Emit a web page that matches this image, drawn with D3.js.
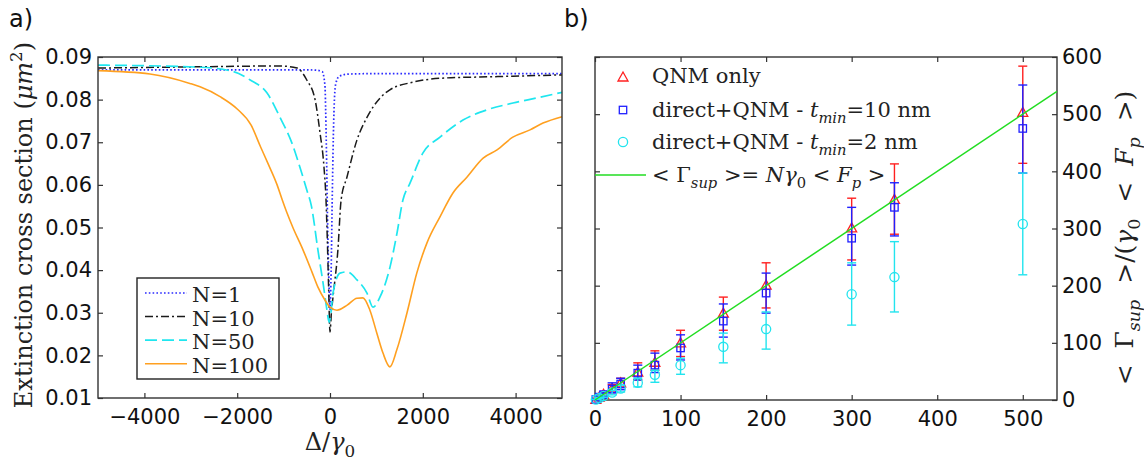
<!DOCTYPE html>
<meta charset="utf-8">
<style>
body { margin: 0; background: #fff; }
svg { display: block; background: #fff; }
.tick line { stroke: #333; stroke-width: 1.2; }
.tick text { fill: #111; }
</style>
<body>
<script src="https://cdn.jsdelivr.net/npm/d3@7/dist/d3.min.js"></script>
<script>

var width = 1144,
    height = 466;

// ---- panel a) : extinction cross section vs detuning ----
var deltaN1  = [-5000, -2000, -600, -300, -170, -110, -80, -50, -20, 0, 25, 50, 80, 120, 200, 400, 1000, 3000, 5000];
var extN1    = [0.0870, 0.0870, 0.0870, 0.0869, 0.0866, 0.0835, 0.070, 0.050, 0.036, 0.0306, 0.040, 0.058, 0.075, 0.0835, 0.0855, 0.0860, 0.0861, 0.0861, 0.0861];

var deltaN10 = [-5000, -2800, -1080, -710, -500, -320, -215, -130, -86, -60, -30, 0, 30, 65, 170, 240, 365, 580, 800, 1080, 1290, 1790, 2520, 3230, 3940, 5000];
var extN10   = [0.0874, 0.0877, 0.0879, 0.0874, 0.0846, 0.0799, 0.0722, 0.0642, 0.0565, 0.048, 0.036, 0.0255, 0.030, 0.0337, 0.0447, 0.0565, 0.0618, 0.0705, 0.0759, 0.0804, 0.0823, 0.0841, 0.0851, 0.0853, 0.0855, 0.0858];

var deltaN50 = [-5000, -2800, -2090, -1720, -1360, -1080, -820, -650, -500, -400, -260, -150, -65, -20, 20, 65, 216, 366, 582, 797, 927, 1078, 1293, 1444, 1573, 1724, 2004, 2371, 2866, 3383, 3944, 4461, 5000];
var extN50   = [0.0881, 0.0876, 0.0866, 0.0846, 0.0816, 0.0759, 0.0698, 0.0642, 0.0588, 0.0550, 0.0447, 0.037, 0.0306, 0.0278, 0.030, 0.0346, 0.0393, 0.0396, 0.0377, 0.0346, 0.0313, 0.0337, 0.0407, 0.0487, 0.0565, 0.0604, 0.0675, 0.0712, 0.0752, 0.0776, 0.0792, 0.0804, 0.0817];

var deltaN100 = [-5000, -3880, -3020, -2800, -2370, -2000, -1700, -1500, -1340, -1140, -1030, -930, -800, -580, -390, -260, -110, 0, 150, 370, 580, 710, 860, 1010, 1140, 1290, 1440, 1660, 1870, 2090, 2370, 2650, 2950, 3300, 3600, 3940, 4310, 4590, 5000];
var extN100   = [0.0868, 0.0860, 0.0838, 0.0830, 0.0807, 0.0778, 0.0740, 0.0690, 0.0651, 0.0600, 0.0565, 0.0535, 0.0500, 0.0447, 0.0396, 0.036, 0.033, 0.0313, 0.0306, 0.0318, 0.0334, 0.0335, 0.0306, 0.0252, 0.0206, 0.0173, 0.0213, 0.030, 0.0393, 0.0464, 0.0525, 0.0581, 0.0618, 0.0663, 0.0682, 0.0712, 0.0729, 0.0745, 0.0760];

var seriesNames  = ["N=1", "N=10", "N=50", "N=100"];
var xTicksA = [-4000, -2000, 0, 2000, 4000];
var yTicksA = [0.01, 0.02, 0.03, 0.04, 0.05, 0.06, 0.07, 0.08, 0.09];

// ---- panel b) : collective decay rate vs number of dipoles ----
var dipoles    = [1, 5, 10, 20, 30, 50, 70, 100, 150, 200, 300, 350, 500];
var qnmOnly    = [1, 5, 10, 20, 30, 49, 66, 100, 152, 201, 301, 351, 503];
var qnmLo      = [0.7, 3.5, 7, 14, 22, 35, 52, 76, 122, 161, 245, 290, 414];
var qnmHi      = [1.3, 6.5, 13, 27, 38, 65, 86, 122, 180, 240, 353, 413, 584];
var direct10   = [1, 5, 9.5, 19, 28, 47, 61, 91, 138, 187, 283, 337, 475];
var direct10Lo = [0.6, 3, 6, 13, 18, 35, 48, 70, 110, 152, 236, 287, 397];
var direct10Hi = [1.4, 7, 14, 30, 38, 61, 82, 114, 168, 222, 337, 380, 551];
var direct2    = [1, 3.5, 7, 13, 20, 30, 44, 61, 93, 124, 185, 215, 308];
var direct2Lo  = [0.8, 2.5, 5, 9, 14, 23, 31, 45, 65, 89, 131, 154, 219];
var direct2Hi  = [1.2, 4.5, 9, 17, 26, 38, 52, 73, 117, 154, 240, 277, 397];
var fitN       = [0, 540];
var fitGamma   = [0, 540];
var xTicksB = [0, 100, 200, 300, 400, 500];
var yTicksB = [0, 100, 200, 300, 400, 500, 600];

var tickFont = "'DejaVu Sans', sans-serif",
    mathFont = "'DejaVu Serif', serif";

var svg = d3.select("body").append("svg")
    .attr("width", width)
    .attr("height", height);

// rich text helper: parts = [[text, style]] ; style: i = italic, sub, sup
function rich(sel, parts, size) {
  var shift = 0;
  parts.forEach(function(p) {
    var st = p[1] || "";
    var ts = sel.append("tspan").text(p[0]);
    var target = 0;
    if (st.indexOf("sub") >= 0) target = 0.28 * size;
    if (st.indexOf("sup") >= 0) target = -0.42 * size;
    if (target !== shift) { ts.attr("dy", target - shift); shift = target; }
    if (st.indexOf("i") === 0 || st.indexOf("-i") >= 0) ts.attr("font-style", "italic");
    if (target !== 0) ts.attr("font-size", size * 0.7);
  });
  return sel;
}

function drawAxes(g, x, y, xt, yt, xfmt, yfmt, yRightLabels) {
  var x0 = x.range()[0], x1 = x.range()[1], y0 = y.range()[0], y1 = y.range()[1];
  var style = function(a) {
    a.select(".domain").remove();
    a.attr("font-size", 21).attr("font-family", tickFont);
  };
  g.append("g").attr("transform", "translate(0," + y0 + ")")
    .call(d3.axisBottom(x).tickValues(xt).tickSizeInner(-5).tickSizeOuter(0).tickPadding(11).tickFormat(xfmt))
    .call(style);
  g.append("g").attr("transform", "translate(0," + y1 + ")")
    .call(d3.axisTop(x).tickValues(xt).tickSizeInner(-5).tickSizeOuter(0).tickFormat(""))
    .call(style);
  g.append("g").attr("transform", "translate(" + x0 + ",0)")
    .call(d3.axisLeft(y).tickValues(yt).tickSizeInner(-5).tickSizeOuter(0).tickPadding(6).tickFormat(yRightLabels ? "" : yfmt))
    .call(style);
  g.append("g").attr("transform", "translate(" + x1 + ",0)")
    .call(d3.axisRight(y).tickValues(yt).tickSizeInner(-5).tickSizeOuter(0).tickPadding(5).tickFormat(yRightLabels ? yfmt : ""))
    .call(style);
  g.append("rect")
    .attr("x", x0).attr("y", y1)
    .attr("width", x1 - x0).attr("height", y0 - y1)
    .attr("fill", "none").attr("stroke", "#333").attr("stroke-width", 1.4);
}

// ================= panel a =================
var xA = d3.scaleLinear().domain([-5000, 5000]).range([98, 562]);
var yA = d3.scaleLinear().domain([0.01, 0.09]).range([398, 57]);

var gA = svg.append("g");

var styles = [
  {color: "#2a2aff", dash: "1.6,2.2", w: 1.7},
  {color: "#1a1a1a", dash: "8,3,2,3", w: 1.5},
  {color: "#1fe6ef", dash: "12,5", w: 1.7},
  {color: "#ffa020", dash: null, w: 1.6}
];
var curves = [
  d3.zip(deltaN1, extN1),
  d3.zip(deltaN10, extN10),
  d3.zip(deltaN50, extN50),
  d3.zip(deltaN100, extN100)
];

var lineA = d3.line()
    .curve(d3.curveMonotoneX)
    .x(function(d) { return xA(d[0]); })
    .y(function(d) { return yA(d[1]); });

gA.selectAll("path.curve")
    .data(curves)
  .enter().append("path")
    .attr("class", "curve")
    .attr("d", lineA)
    .attr("fill", "none")
    .attr("stroke", function(d, i) { return styles[i].color; })
    .attr("stroke-width", function(d, i) { return styles[i].w; })
    .attr("stroke-dasharray", function(d, i) { return styles[i].dash; });

drawAxes(gA, xA, yA, xTicksA, yTicksA, d3.format("d"), d3.format(".2f"), false);

// legend a
var legA = gA.append("g");
legA.append("rect")
    .attr("x", 137).attr("y", 278).attr("width", 142).attr("height", 101)
    .attr("fill", "#fff").attr("stroke", "#222").attr("stroke-width", 1.4);
seriesNames.forEach(function(name, i) {
  var yy = 293 + i * 23.6;
  legA.append("line")
      .attr("x1", 145).attr("x2", 187).attr("y1", yy).attr("y2", yy)
      .attr("stroke", styles[i].color)
      .attr("stroke-width", styles[i].w)
      .attr("stroke-dasharray", styles[i].dash);
  legA.append("text")
      .attr("x", 192).attr("y", yy + 9)
      .attr("font-family", mathFont).attr("font-size", 21).attr("fill", "#222")
      .text(name);
});

// labels a
svg.append("text").attr("x", 9).attr("y", 27)
    .attr("font-family", tickFont).attr("font-size", 24).attr("fill", "#111")
    .text("a)");

rich(svg.append("text")
    .attr("transform", "translate(32,225) rotate(-90)")
    .attr("text-anchor", "middle")
    .attr("font-family", mathFont).attr("font-size", 24).attr("fill", "#222"),
  [["Extinction cross section ("], ["μm", "i"], ["2", "sup"], [")"]], 24);

rich(svg.append("text")
    .attr("x", 330).attr("y", 450)
    .attr("text-anchor", "middle")
    .attr("font-family", mathFont).attr("font-size", 24).attr("fill", "#222"),
  [["Δ/"], ["γ", "i"], ["0", "sub"]], 24);

// ================= panel b =================
var xB = d3.scaleLinear().domain([0, 540]).range([595, 1057]);
var yB = d3.scaleLinear().domain([0, 600]).range([400, 57]);

var gB = svg.append("g");

drawAxes(gB, xB, yB, xTicksB, yTicksB, d3.format("d"), d3.format("d"), true);

var groups = [
  {val: qnmOnly, lo: qnmLo, hi: qnmHi, color: "#ff2020", marker: "tri"},
  {val: direct10, lo: direct10Lo, hi: direct10Hi, color: "#2020ff", marker: "sq"},
  {val: direct2, lo: direct2Lo, hi: direct2Hi, color: "#22e4ee", marker: "circ"}
];

function marker(g, type, cx, cy, color) {
  if (type === "tri") {
    g.append("path")
      .attr("d", "M" + (cx - 5) + "," + (cy + 4) + "L" + (cx + 5) + "," + (cy + 4) + "L" + cx + "," + (cy - 5) + "Z")
      .attr("fill", "none").attr("stroke", color).attr("stroke-width", 1.3);
  } else if (type === "sq") {
    g.append("rect").attr("x", cx - 3.7).attr("y", cy - 3.7).attr("width", 7.4).attr("height", 7.4)
      .attr("fill", "none").attr("stroke", color).attr("stroke-width", 1.3);
  } else {
    g.append("circle").attr("cx", cx).attr("cy", cy).attr("r", 4.6)
      .attr("fill", "none").attr("stroke", color).attr("stroke-width", 1.3);
  }
}

groups.forEach(function(s) {
  var g = gB.append("g");
  dipoles.forEach(function(n, i) {
    var cx = xB(n);
    g.append("line").attr("x1", cx).attr("x2", cx)
      .attr("y1", yB(s.lo[i])).attr("y2", yB(s.hi[i]))
      .attr("stroke", s.color).attr("stroke-width", 1.4);
    [s.lo[i], s.hi[i]].forEach(function(v) {
      g.append("line").attr("x1", cx - 4.5).attr("x2", cx + 4.5)
        .attr("y1", yB(v)).attr("y2", yB(v))
        .attr("stroke", s.color).attr("stroke-width", 1.4);
    });
    marker(g, s.marker, cx, yB(s.val[i]), s.color);
  });
});

gB.append("path")
    .datum(d3.zip(fitN, fitGamma))
    .attr("d", d3.line().x(function(d) { return xB(d[0]); }).y(function(d) { return yB(d[1]); }))
    .attr("fill", "none").attr("stroke", "#22dd22").attr("stroke-width", 1.5);

// legend b
var legB = gB.append("g");
var legRows = [
  [["QNM only"]],
  [["direct+QNM - "], ["t", "i"], ["min", "sub-i"], ["=10 nm"]],
  [["direct+QNM - "], ["t", "i"], ["min", "sub-i"], ["=2 nm"]],
  [["< Γ"], ["sup", "sub-i"], [" >= "], ["N", "i"], ["γ", "i"], ["0", "sub"], [" < "], ["F", "i"], ["p", "sub-i"], [" >"]]
];
var legY = [76, 110, 142, 175];
marker(legB, "tri", 623, legY[0] + 1, groups[0].color);
marker(legB, "sq", 623, legY[1], groups[1].color);
marker(legB, "circ", 623, legY[2], groups[2].color);
legB.append("line").attr("x1", 595).attr("x2", 646).attr("y1", legY[3]).attr("y2", legY[3])
    .attr("stroke", "#22dd22").attr("stroke-width", 1.5);
legRows.forEach(function(parts, i) {
  rich(legB.append("text")
      .attr("x", 652).attr("y", legY[i] + 7)
      .attr("font-family", mathFont).attr("font-size", 21).attr("fill", "#222"),
    parts, 21);
});

// labels b
svg.append("text").attr("x", 564).attr("y", 27)
    .attr("font-family", tickFont).attr("font-size", 24).attr("fill", "#111")
    .text("b)");

rich(svg.append("text")
    .attr("transform", "translate(1133,238) rotate(-90)")
    .attr("text-anchor", "middle")
    .attr("font-family", mathFont).attr("font-size", 25).attr("fill", "#222"),
  [["<  Γ"], ["sup", "sub-i"], ["  >/("], ["γ", "i"], ["0", "sub"], ["  <  "], ["F", "i"], ["p", "sub-i"], ["  >)"]], 25)
  .style("white-space", "pre");

</script>
